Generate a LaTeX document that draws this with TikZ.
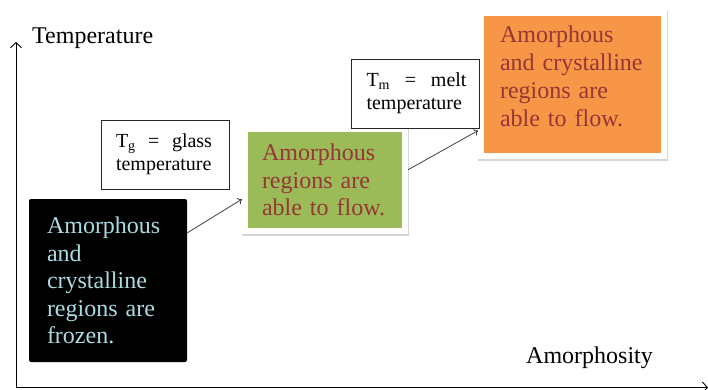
\documentclass[tikz,border=0pt]{standalone}
\usepackage{fontspec}
\setmainfont{Liberation Serif}
\usepackage{tikz}
\usetikzlibrary{arrows.meta}

\definecolor{icetext}{RGB}{170,220,226}
\definecolor{flowgreen}{RGB}{155,187,89}
\definecolor{floworange}{RGB}{247,150,70}
\definecolor{flowtext}{RGB}{149,55,53}

\tikzset{
  phase/.style={rectangle, inner xsep=#1, inner ysep=0pt,
    font=\fontsize{24}{27.5}\selectfont, align=left},
  glowbox/.style={draw=white, line width=6pt, text=flowtext,
    preaction={draw=black!16, line width=7pt,
      transform canvas={xshift=0.8pt,yshift=-1.8pt}}},
  note/.style={rectangle, draw=black!85, line width=0.8pt, fill=white,
    font=\fontsize{20}{23}\selectfont, align=left, text width=98pt,
    inner xsep=15pt, minimum width=128pt, minimum height=69pt},
  link/.style={-{To[length=4pt,width=7pt]}, draw=black!75, line width=0.8pt},
  axis/.style={-{Straight Barb[length=5pt,width=11pt]}, line width=0.9pt},
  axislabel/.style={font=\fontsize{24}{26}\selectfont, inner sep=0pt}
}

\begin{document}
\begin{tikzpicture}[x=1pt,y=-1pt]
  \useasboundingbox (0,0) rectangle (708,389);

  % Axes
  \coordinate (origin) at (16,387.5);
  \coordinate (ytop)   at (16,42);
  \coordinate (xend)   at (708,387.5);
  \draw[axis] (origin) -- (ytop);
  \draw[axis] (origin) -- (xend);
  \node[axislabel,anchor=base west] (templabel) at (32,43) {Temperature};
  \node[axislabel,anchor=base west] (amorlabel) at (526,363) {Amorphosity};

  % Phases
  \node[phase=18pt, fill=black, text=icetext, rounded corners=2pt,
        text width=122pt, minimum width=158pt, minimum height=163pt]
        (frozen) at (108,280.5)
        {Amorphous\\ and\\ crystalline\\ regions are\\ frozen.};
  \node[phase=17pt, glowbox, fill=flowgreen, text width=126pt,
        minimum width=160pt, minimum height=102pt]
        (rubbery) at (325,180)
        {Amorphous\\ regions are\\ able to flow.};
  \node[phase=19pt, glowbox, fill=floworange, text width=145pt,
        font=\fontsize{24}{28}\selectfont, text depth=100pt,
        minimum width=183pt, minimum height=143pt]
        (molten) at (572.5,84.5)
        {Amorphous\\ and crystalline\\ regions are\\ able to flow.};

  % Transitions
  \path (frozen.31) edge[link] (rubbery.193);
  \path (rubbery.7) edge[link] (molten.206);

  % Notes
  \node[note] (tglass) at (165,154.5)
        {\hbox to 96pt{T\textsubscript{g}\hfil=\hfil glass}\\ temperature};
  \node[note] (tmelt) at (415.5,93.5)
        {\hbox to 100pt{T\textsubscript{m}\hfil=\hfil melt}\\ temperature};
\end{tikzpicture}
\end{document}
